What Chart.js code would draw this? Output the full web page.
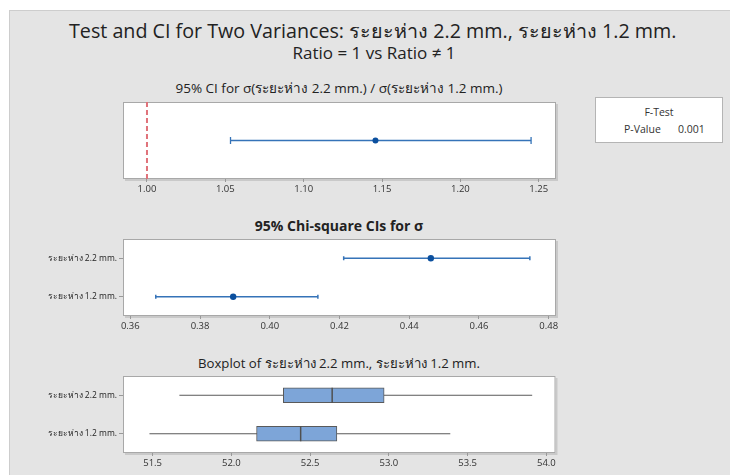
<!DOCTYPE html>
<html>
<head>
<meta charset="utf-8">
<script src="https://cdn.jsdelivr.net/npm/chart.js@4.4.1/dist/chart.umd.min.js"></script>
<style>
    body { margin: 0; background: #fff; font-family: "Open Sans", "Noto Sans", sans-serif; color: #222; }
    #page { position: relative; width: 730px; height: 475px; overflow: hidden; }
    #panel { position: absolute; left: 9px; top: 10px; right: 0; bottom: 0; background: #e4e4e4; border-left: 1px solid #cdcdcd; border-top: 1px solid #cdcdcd; }
    canvas { position: absolute; left: 0; }
    .txt { position: absolute; text-align: center; white-space: nowrap; }
    #ftest { position: absolute; left: 595px; top: 97px; width: 126px; height: 44px; background: #fff; border: 1px solid #b4b4b4; font-size: 10.5px; color: #333; }
</style>
</head>
<body>
<div id="page">
    <div id="panel"></div>
    <div class="txt" style="left:69px; width:600px; top:18px; height:26px; line-height:26px; font-size:19.7px;">Test and CI for Two Variances: ระยะห่าง 2.2 mm., ระยะห่าง 1.2 mm.</div>
    <div class="txt" style="left:174px; width:400px; top:43px; height:20px; line-height:20px; font-size:17px;">Ratio = 1 vs Ratio ≠ 1</div>
    <div class="txt" style="left:139px; width:400px; top:79px; height:18px; line-height:18px; font-size:13.5px;">95% CI for σ(ระยะห่าง 2.2 mm.) / σ(ระยะห่าง 1.2 mm.)</div>
    <div class="txt" style="left:139px; width:400px; top:217px; height:18px; line-height:18px; font-size:14px; font-weight:bold;">95% Chi-square CIs for σ</div>
    <div class="txt" style="left:139px; width:400px; top:354px; height:18px; line-height:18px; font-size:13.2px;">Boxplot of ระยะห่าง 2.2 mm., ระยะห่าง 1.2 mm.</div>
    <div id="ftest">
        <div class="txt" style="left:0; width:126px; top:7px;">F-Test</div>
        <div class="txt" style="left:28px; top:24px;">P-Value</div>
        <div class="txt" style="left:82px; top:24px;">0.001</div>
    </div>
    <canvas id="ratioChart" width="730" height="120" style="top:80px;"></canvas>
    <canvas id="sigmaChart" width="730" height="130" style="top:210px;"></canvas>
    <canvas id="boxChart" width="730" height="125" style="top:350px;"></canvas>
</div>

<script>
// ratio of sigmas: lower, estimate, upper
const ratioCI = [1.0533, 1.1458, 1.2451];
const ratioRef = 1.0;

// chi-square CIs for sigma
const groups = ["ระยะห่าง 2.2 mm.", "ระยะห่าง 1.2 mm."];
const sigmaLower = [0.4212, 0.3673];
const sigmaEst = [0.4462, 0.3895];
const sigmaUpper = [0.4746, 0.4138];

// boxplot summary
const boxMin = [51.67, 51.48];
const boxQ1 = [52.33, 52.16];
const boxMedian = [52.64, 52.44];
const boxQ3 = [52.97, 52.67];
const boxMax = [53.91, 53.39];

Chart.defaults.font.family = '"Open Sans", "Noto Sans", sans-serif';
Chart.defaults.color = "#333";
Chart.defaults.animation = false;

const lineBlue = "#3573b8";
const dotBlue = "#0b4f9e";

// white plot area with grey frame
const plotFrame = {
    id: "plotFrame",
    beforeDraw(chart) {
        const { ctx, chartArea: a } = chart;
        ctx.save();
        ctx.fillStyle = "#c9c9c9";
        ctx.fillRect(a.left + 2, a.top + 2, a.right - a.left, a.bottom - a.top);
        ctx.fillStyle = "#fff";
        ctx.fillRect(a.left, a.top, a.right - a.left, a.bottom - a.top);
        ctx.strokeStyle = "#a8a8a8";
        ctx.lineWidth = 1;
        ctx.strokeRect(a.left + 0.5, a.top + 0.5, a.right - a.left - 1, a.bottom - a.top - 1);
        ctx.restore();
    }
};

function xAxis(min, max, step, digits, height) {
    return {
        type: "linear",
        min: min,
        max: max,
        border: { display: false },
        grid: { display: true, drawOnChartArea: false, tickLength: 3, color: "#999" },
        ticks: {
            stepSize: step,
            includeBounds: false,
            autoSkip: false,
            maxRotation: 0,
            padding: 2,
            font: { size: 9.5 },
            color: "#333",
            callback: v => Number(v).toFixed(digits)
        },
        afterFit(scale) { scale.height = height; }
    };
}

function yCategory() {
    return {
        type: "category",
        labels: groups,
        offset: true,
        border: { display: false },
        grid: { display: true, drawOnChartArea: false, offset: false, tickLength: 4, color: "#999" },
        ticks: { padding: 2, font: { size: 8.5 }, color: "#222" },
        afterFit(scale) { scale.width = 123; }
    };
}

const baseOptions = {
    responsive: false,
    plugins: { legend: { display: false }, tooltip: { enabled: false } }
};

// === Chart 1: CI for ratio of sigmas ===
new Chart(document.getElementById("ratioChart"), {
    type: "scatter",
    data: {
        datasets: [
            {
                data: [{ x: ratioCI[1], y: 1 }],
                pointStyle: "circle",
                pointRadius: 3,
                pointBackgroundColor: dotBlue,
                pointBorderWidth: 0
            },
            {
                data: [{ x: ratioCI[0], y: 1 }, { x: ratioCI[2], y: 1 }],
                showLine: true,
                borderColor: lineBlue,
                borderWidth: 1.3,
                pointStyle: "line",
                pointRotation: 90,
                pointRadius: 3.5,
                pointBorderColor: lineBlue,
                pointBorderWidth: 1.3
            },
            {
                data: [{ x: ratioRef, y: 0 }, { x: ratioRef, y: 2 }],
                showLine: true,
                borderColor: "#e0727a",
                borderWidth: 2,
                borderDash: [5, 3],
                pointRadius: 0
            }
        ]
    },
    options: {
        ...baseOptions,
        layout: { padding: { left: 123, right: 174, top: 22, bottom: 0 } },
        scales: {
            x: xAxis(0.9847, 1.261, 0.05, 2, 21),
            y: { type: "linear", min: 0, max: 2, display: false }
        }
    },
    plugins: [plotFrame]
});

// === Chart 2: Chi-square CIs for sigma ===
const sigmaSets = [{
    data: groups.map((g, i) => ({ x: sigmaEst[i], y: g })),
    pointStyle: "circle",
    pointRadius: 3.2,
    pointBackgroundColor: dotBlue,
    pointBorderWidth: 0
}];
groups.forEach((g, i) => {
    sigmaSets.push({
        data: [{ x: sigmaLower[i], y: g }, { x: sigmaUpper[i], y: g }],
        showLine: true,
        borderColor: lineBlue,
        borderWidth: 1.5,
        pointStyle: "line",
        pointRotation: 90,
        pointRadius: 2,
        pointBorderColor: lineBlue,
        pointBorderWidth: 1.5
    });
});

new Chart(document.getElementById("sigmaChart"), {
    type: "scatter",
    data: { datasets: sigmaSets },
    options: {
        ...baseOptions,
        layout: { padding: { left: 0, right: 174, top: 29, bottom: 0 } },
        scales: {
            x: xAxis(0.3579, 0.4821, 0.02, 2, 24),
            y: yCategory()
        }
    },
    plugins: [plotFrame]
});

// === Chart 3: Boxplot ===
const boxSets = [
    {
        type: "scatter",
        data: groups.map((g, i) => ({ x: boxMedian[i], y: g })),
        pointStyle: "line",
        pointRotation: 90,
        pointRadius: 7.5,
        pointBorderColor: "#505050",
        pointBorderWidth: 1.5
    },
    {
        type: "bar",
        data: groups.map((g, i) => [boxQ1[i], boxQ3[i]]),
        backgroundColor: "#7da5d8",
        borderColor: "#5a5a5a",
        borderWidth: 1,
        borderSkipped: false,
        barThickness: 15
    }
];
groups.forEach((g, i) => {
    boxSets.push({
        type: "line",
        data: [{ x: boxMin[i], y: g }, { x: boxMax[i], y: g }],
        borderColor: "#5a5a5a",
        borderWidth: 1,
        pointRadius: 0
    });
});

new Chart(document.getElementById("boxChart"), {
    type: "bar",
    data: { labels: groups, datasets: boxSets },
    options: {
        ...baseOptions,
        indexAxis: "y",
        layout: { padding: { left: 0, right: 174.5, top: 26, bottom: 0 } },
        scales: {
            x: xAxis(51.312, 54.058, 0.5, 1, 22),
            y: yCategory()
        }
    },
    plugins: [plotFrame]
});
</script>
</body>
</html>
